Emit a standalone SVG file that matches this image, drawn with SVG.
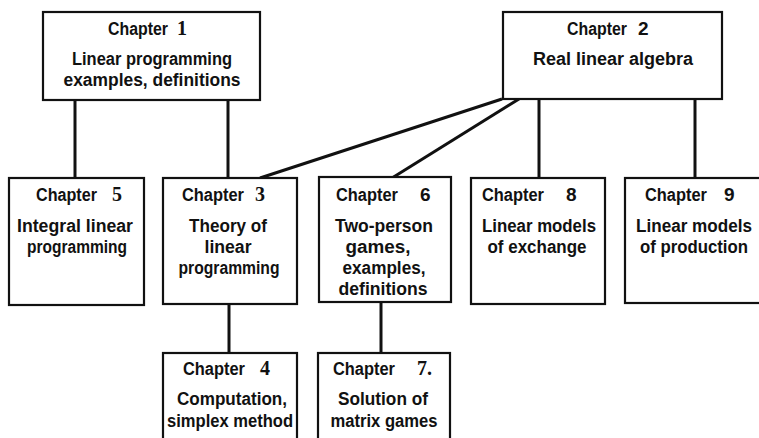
<svg xmlns="http://www.w3.org/2000/svg" width="759" height="438" viewBox="0 0 759 438">
<style>
.box{fill:#fff;stroke:#111;stroke-width:2.2}
.con{stroke:#111;stroke-width:3;fill:none;stroke-linecap:butt}
text{font-family:"Liberation Sans",Arial,sans-serif;font-weight:bold;font-size:17.5px;fill:#111}
.c{text-anchor:middle}
.ns{font-family:"Liberation Serif","Times New Roman",serif;font-size:20px}
.nn{font-size:19px}
</style>
<rect width="759" height="438" fill="#fff"/>
<g id="connectors">
<line class="con" x1="75" y1="100" x2="75" y2="178"/>
<line class="con" x1="228" y1="100" x2="228" y2="178"/>
<line class="con" x1="502" y1="99" x2="260" y2="178"/>
<line class="con" x1="519" y1="99" x2="392" y2="178"/>
<line class="con" x1="539" y1="99" x2="539" y2="178"/>
<line class="con" x1="695" y1="99" x2="695" y2="178"/>
<line class="con" x1="229" y1="304" x2="229" y2="353"/>
<line class="con" x1="381" y1="302" x2="381" y2="353"/>
</g>
<g id="ch1">
<rect class="box" x="43" y="12" width="217" height="88"/>
<text x="108" y="35" textLength="60" lengthAdjust="spacingAndGlyphs">Chapter</text><text class="ns" x="177" y="35">1</text>
<text class="c" x="152" y="65" textLength="160" lengthAdjust="spacingAndGlyphs">Linear programming</text>
<text class="c" x="152" y="86" textLength="177" lengthAdjust="spacingAndGlyphs">examples, definitions</text>
</g>
<g id="ch2">
<rect class="box" x="503" y="12" width="219" height="87"/>
<text x="567" y="35" textLength="60" lengthAdjust="spacingAndGlyphs">Chapter</text><text class="nn" x="638" y="35">2</text>
<text class="c" x="613" y="65" textLength="160" lengthAdjust="spacingAndGlyphs">Real linear algebra</text>
</g>
<g id="ch5">
<rect class="box" x="9" y="178" width="135" height="127"/>
<text x="36" y="201" textLength="61" lengthAdjust="spacingAndGlyphs">Chapter</text><text class="ns" x="112" y="201">5</text>
<text class="c" x="75" y="232" textLength="116" lengthAdjust="spacingAndGlyphs">Integral linear</text>
<text class="c" x="77" y="253" textLength="100" lengthAdjust="spacingAndGlyphs">programming</text>
</g>
<g id="ch3">
<rect class="box" x="163" y="178" width="134" height="126"/>
<text x="182" y="201" textLength="62" lengthAdjust="spacingAndGlyphs">Chapter</text><text class="ns" x="255" y="201">3</text>
<text class="c" x="228" y="232" textLength="78" lengthAdjust="spacingAndGlyphs">Theory of</text>
<text class="c" x="228" y="253" textLength="47" lengthAdjust="spacingAndGlyphs">linear</text>
<text class="c" x="229" y="274" textLength="101" lengthAdjust="spacingAndGlyphs">programming</text>
</g>
<g id="ch6">
<rect class="box" x="319" y="177" width="132" height="125"/>
<text x="336" y="201" textLength="62" lengthAdjust="spacingAndGlyphs">Chapter</text><text class="nn" x="420" y="201">6</text>
<text class="c" x="384" y="232" textLength="98" lengthAdjust="spacingAndGlyphs">Two-person</text>
<text class="c" x="378" y="253" textLength="65" lengthAdjust="spacingAndGlyphs">games,</text>
<text class="c" x="384" y="274" textLength="83" lengthAdjust="spacingAndGlyphs">examples,</text>
<text class="c" x="383" y="295" textLength="89" lengthAdjust="spacingAndGlyphs">definitions</text>
</g>
<g id="ch8">
<rect class="box" x="471" y="178" width="134" height="126"/>
<text x="482" y="201" textLength="62" lengthAdjust="spacingAndGlyphs">Chapter</text><text class="nn" x="566" y="201">8</text>
<text class="c" x="539" y="232" textLength="114" lengthAdjust="spacingAndGlyphs">Linear models</text>
<text class="c" x="537" y="253" textLength="99" lengthAdjust="spacingAndGlyphs">of exchange</text>
</g>
<g id="ch9">
<rect class="box" x="625" y="178" width="136" height="125"/>
<text x="645" y="201" textLength="62" lengthAdjust="spacingAndGlyphs">Chapter</text><text class="nn" x="724" y="201">9</text>
<text class="c" x="694" y="232" textLength="116" lengthAdjust="spacingAndGlyphs">Linear models</text>
<text class="c" x="694" y="253" textLength="108" lengthAdjust="spacingAndGlyphs">of production</text>
</g>
<g id="ch4">
<rect class="box" x="163" y="353" width="134" height="95"/>
<text x="183" y="375" textLength="62" lengthAdjust="spacingAndGlyphs">Chapter</text><text class="ns" x="260" y="375">4</text>
<text class="c" x="232" y="405" textLength="110" lengthAdjust="spacingAndGlyphs">Computation,</text>
<text class="c" x="230" y="427" textLength="126" lengthAdjust="spacingAndGlyphs">simplex method</text>
</g>
<g id="ch7">
<rect class="box" x="318" y="353" width="132" height="95"/>
<text x="333" y="375" textLength="62" lengthAdjust="spacingAndGlyphs">Chapter</text><text class="ns" x="417" y="375">7.</text>
<text class="c" x="383" y="405" textLength="90" lengthAdjust="spacingAndGlyphs">Solution of</text>
<text class="c" x="384" y="427" textLength="107" lengthAdjust="spacingAndGlyphs">matrix games</text>
</g>
</svg>
